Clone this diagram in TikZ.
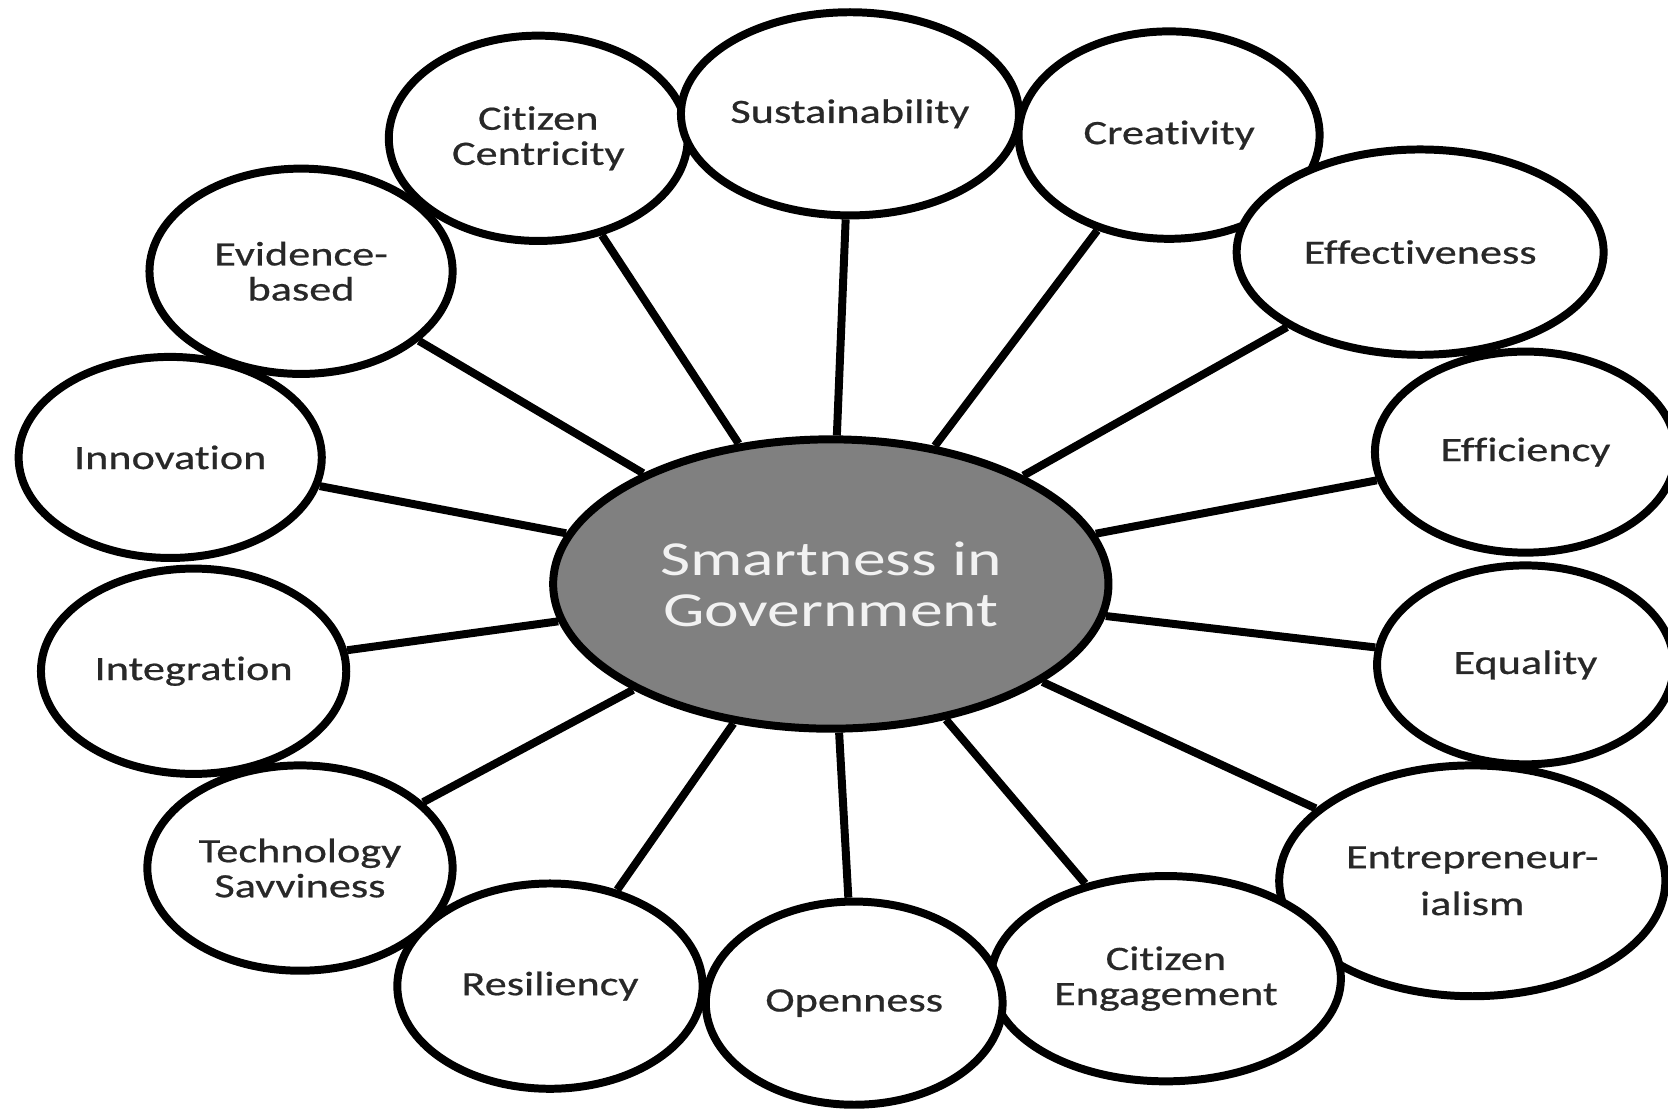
\documentclass[tikz,border=0pt]{standalone}
\usepackage{fontspec}
\setmainfont[FakeStretch=1.3,FakeBold=0.6,Ligatures=NoCommon]{Carlito}
\newfontfamily\hubfont[FakeStretch=1.34,Ligatures=NoCommon]{Carlito}
\usetikzlibrary{shapes.geometric}
\definecolor{hubgray}{HTML}{808080}
\definecolor{txtgray}{HTML}{282828}
\definecolor{hubtext}{HTML}{F2F2F2}
\begin{document}
\begin{tikzpicture}[x=1pt,y=-1pt,
  petal/.style={ellipse, draw=black, line width=7.5pt, fill=white, inner sep=0pt,
    align=center, text=txtgray, font=\fontsize{32}{33}\selectfont},
  hubnode/.style={ellipse, draw=black, line width=7.5pt, fill=hubgray, inner sep=0pt,
    align=center, text=hubtext, font=\hubfont\fontsize{46}{48}\selectfont},
  link/.style={draw=black, line width=7.5pt}]
\useasboundingbox (0,0) rectangle (1568,1042);
\clip (0,0) rectangle (1568,1042);
\fill[white] (0,0) rectangle (1568,1042);

\node[hubnode, minimum width=522pt, minimum height=272pt] (hub) at (781,549) {Smartness in\\Government};

\node[petal, minimum width=281pt, minimum height=193pt] (cc) at (506,130) {Citizen\\Centricity};
\node[petal, minimum width=317pt, minimum height=191pt] (sus) at (799,107) {Sustainability};
\node[petal, minimum width=283pt, minimum height=195pt] (cre) at (1099,127) {Creativity};
\node[petal, minimum width=345pt, minimum height=193pt] (eff) at (1335,237) {Effectiveness};
\node[petal, minimum width=283pt, minimum height=189pt] (efc) at (1434,425) {Efficiency};
\node[petal, minimum width=279pt, minimum height=187pt] (equ) at (1434,625) {Equality};
\node[petal, minimum width=363pt, minimum height=217pt, font=\fontsize{32}{44}\selectfont] (ent) at (1384,828) {Entrepreneur-\\ialism};
\node[petal, minimum width=329pt, minimum height=193pt] (ceng) at (1096,920) {Citizen\\Engagement};
\node[petal, minimum width=279pt, minimum height=191pt] (opn) at (803,943) {Openness};
\node[petal, minimum width=287pt, minimum height=193pt] (res) at (517,927) {Resiliency};
\node[petal, minimum width=287pt, minimum height=193pt] (tech) at (282,816) {Technology\\Savviness};
\node[petal, minimum width=287pt, minimum height=193pt] (integ) at (182,631) {Integration};
\node[petal, minimum width=285pt, minimum height=189pt] (inno) at (160,430) {Innovation};
\node[petal, minimum width=285pt, minimum height=193pt] (evid) at (283,255) {Evidence-\\based};

\foreach \p in {cc,sus,cre,eff,efc,equ,ent,ceng,opn,res,tech,integ,inno,evid}
  \draw[link] (hub) -- (\p);
\end{tikzpicture}
\end{document}
